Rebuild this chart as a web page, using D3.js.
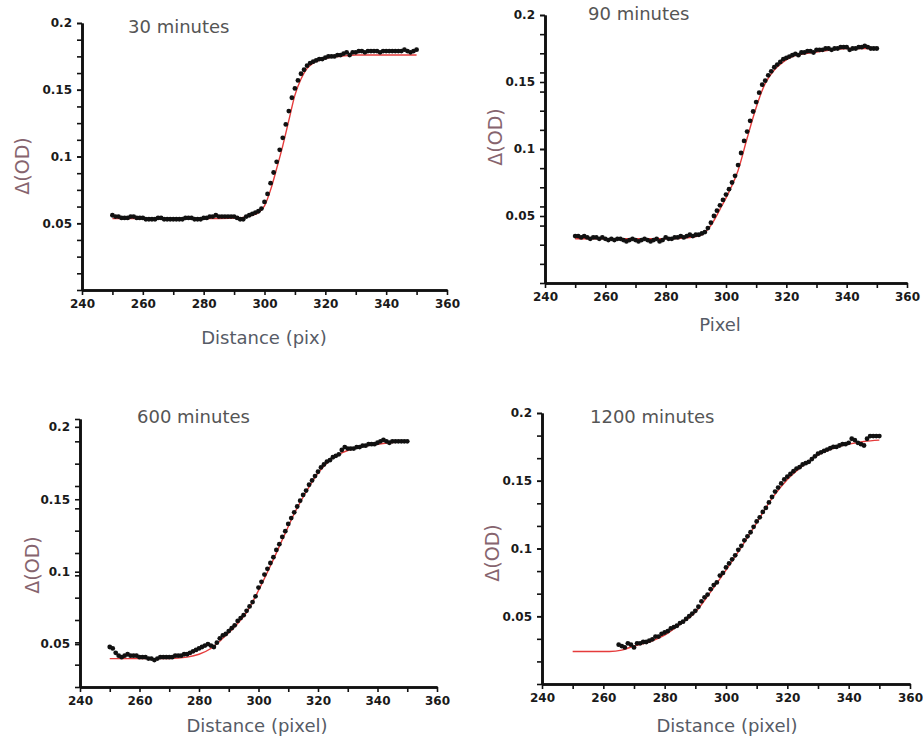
<!DOCTYPE html>
<html>
<head>
  <meta charset='utf-8'>
  <style>
    body { margin: 0; background: #fff; }
    text { font-family: 'DejaVu Sans', sans-serif; }
  </style>
  <script src='https://cdn.jsdelivr.net/npm/d3@7'></script>
</head>
<body>
<script>
  let [width, height] = [923, 740]

  // axis ticks and texts
  let xTicks = [240, 260, 280, 300, 320, 340, 360]
  let xMinor = [250, 270, 290, 310, 330, 350]
  let yTicks = [0.05, 0.1, 0.15, 0.2]
  let titles = ['30 minutes', '90 minutes', '600 minutes', '1200 minutes']
  let xLabels = ['Distance (pix)', 'Pixel', 'Distance (pixel)', 'Distance (pixel)']
  let startPix = [250, 250, 250, 265]

  // measured Δ(OD), one value per pixel from startPix
  let od30 = [
    0.056, 0.055, 0.055, 0.054, 0.054, 0.054, 0.055, 0.055, 0.054, 0.054,
    0.054, 0.053, 0.053, 0.053, 0.053, 0.054, 0.054, 0.053, 0.053, 0.053,
    0.053, 0.053, 0.053, 0.053, 0.054, 0.054, 0.054, 0.053, 0.053, 0.053,
    0.054, 0.054, 0.055, 0.055, 0.056, 0.055, 0.055, 0.055, 0.055, 0.055,
    0.055, 0.054, 0.053, 0.053, 0.055, 0.056, 0.057, 0.058, 0.059, 0.061,
    0.066, 0.072, 0.080, 0.088, 0.096, 0.105, 0.114, 0.124, 0.134, 0.144,
    0.151, 0.157, 0.162, 0.165, 0.168, 0.170, 0.171, 0.172, 0.173, 0.173,
    0.174, 0.175, 0.175, 0.175, 0.176, 0.176, 0.177, 0.178, 0.176, 0.178,
    0.178, 0.179, 0.179, 0.178, 0.179, 0.179, 0.179, 0.179, 0.178, 0.179,
    0.179, 0.179, 0.179, 0.179, 0.179, 0.179, 0.180, 0.179, 0.178, 0.179,
    0.180
  ]
  let od90 = [
    0.035, 0.035, 0.034, 0.035, 0.034, 0.033, 0.034, 0.034, 0.033, 0.034,
    0.033, 0.032, 0.033, 0.032, 0.033, 0.033, 0.032, 0.031, 0.032, 0.033,
    0.032, 0.031, 0.032, 0.033, 0.032, 0.031, 0.032, 0.033, 0.031, 0.032,
    0.034, 0.033, 0.033, 0.034, 0.034, 0.035, 0.034, 0.035, 0.036, 0.035,
    0.036, 0.036, 0.037, 0.038, 0.041, 0.045, 0.050, 0.054, 0.058, 0.062,
    0.066, 0.070, 0.075, 0.080, 0.088, 0.097, 0.106, 0.113, 0.121, 0.128,
    0.135, 0.142, 0.148, 0.151, 0.155, 0.158, 0.161, 0.163, 0.165, 0.167,
    0.168, 0.169, 0.170, 0.171, 0.170, 0.172, 0.172, 0.173, 0.173, 0.172,
    0.174, 0.174, 0.174, 0.175, 0.175, 0.174, 0.175, 0.175, 0.176, 0.176,
    0.176, 0.174, 0.175, 0.175, 0.176, 0.176, 0.177, 0.176, 0.175, 0.175,
    0.175
  ]
  let od600 = [
    0.048, 0.047, 0.044, 0.042, 0.041, 0.042, 0.043, 0.042, 0.042, 0.042,
    0.041, 0.041, 0.041, 0.040, 0.040, 0.039, 0.040, 0.041, 0.041, 0.041,
    0.041, 0.041, 0.042, 0.042, 0.042, 0.043, 0.043, 0.044, 0.045, 0.046,
    0.047, 0.048, 0.049, 0.050, 0.049, 0.048, 0.051, 0.054, 0.056, 0.057,
    0.059, 0.061, 0.063, 0.066, 0.068, 0.070, 0.073, 0.076, 0.079, 0.083,
    0.089, 0.093, 0.098, 0.102, 0.106, 0.110, 0.115, 0.119, 0.124, 0.128,
    0.133, 0.137, 0.141, 0.145, 0.149, 0.153, 0.156, 0.160, 0.163, 0.166,
    0.169, 0.172, 0.174, 0.176, 0.177, 0.179, 0.180, 0.181, 0.184, 0.186,
    0.185, 0.185, 0.185, 0.186, 0.186, 0.187, 0.187, 0.188, 0.188, 0.188,
    0.189, 0.190, 0.191, 0.190, 0.189, 0.190, 0.190, 0.190, 0.190, 0.190,
    0.190
  ]
  let od1200 = [
    0.029, 0.028, 0.027, 0.030, 0.029, 0.027, 0.030, 0.030, 0.031, 0.031,
    0.032, 0.033, 0.035, 0.035, 0.037, 0.038, 0.039, 0.041, 0.042, 0.043,
    0.045, 0.046, 0.048, 0.050, 0.052, 0.054, 0.057, 0.061, 0.064, 0.066,
    0.070, 0.073, 0.075, 0.080, 0.082, 0.086, 0.089, 0.092, 0.095, 0.099,
    0.102, 0.106, 0.109, 0.112, 0.116, 0.120, 0.123, 0.127, 0.130, 0.134,
    0.138, 0.142, 0.145, 0.148, 0.151, 0.153, 0.155, 0.157, 0.159, 0.160,
    0.162, 0.163, 0.164, 0.166, 0.168, 0.170, 0.171, 0.172, 0.173, 0.174,
    0.175, 0.175, 0.176, 0.177, 0.177, 0.178, 0.181, 0.180, 0.178, 0.177,
    0.176, 0.181, 0.183, 0.183, 0.183, 0.183
  ]

  // fitted curves (red)
  let fit30X = [250, 285, 292, 296, 298, 300, 302, 304, 306, 308, 310, 312, 314, 316, 318, 321, 325, 330, 350]
  let fit30Y = [0.0535, 0.0535, 0.054, 0.056, 0.058, 0.063, 0.075, 0.091, 0.108, 0.127, 0.146, 0.158, 0.166, 0.170, 0.172, 0.174, 0.175, 0.176, 0.176]
  let fit90X = [250, 280, 288, 292, 295, 298, 301, 304, 307, 310, 313, 316, 319, 322, 326, 332, 340, 350]
  let fit90Y = [0.033, 0.033, 0.034, 0.036, 0.043, 0.055, 0.068, 0.084, 0.108, 0.131, 0.149, 0.159, 0.165, 0.169, 0.171, 0.173, 0.175, 0.175]
  let fit600X = [250, 260, 270, 276, 280, 284, 288, 292, 296, 300, 304, 308, 312, 316, 320, 324, 328, 334, 340, 350]
  let fit600Y = [0.040, 0.040, 0.040, 0.041, 0.043, 0.047, 0.054, 0.062, 0.072, 0.087, 0.104, 0.122, 0.140, 0.155, 0.168, 0.177, 0.182, 0.186, 0.188, 0.190]
  let fit1200X = [250, 262, 266, 270, 275, 280, 285, 290, 295, 300, 305, 310, 315, 320, 325, 330, 335, 340, 345, 350]
  let fit1200Y = [0.024, 0.024, 0.025, 0.028, 0.031, 0.036, 0.044, 0.053, 0.068, 0.084, 0.101, 0.119, 0.137, 0.151, 0.161, 0.169, 0.174, 0.177, 0.179, 0.180]

  let series = [od30, od90, od600, od1200]
  let fits = [[fit30X, fit30Y], [fit90X, fit90Y], [fit600X, fit600Y], [fit1200X, fit1200Y]]

  // panel placement (pixels)
  let panels = [
    { xr: [82, 447], yr: [290, 23], yd: [0, 0.2], minor: 16, title: [128, 33], xl: [264, 344], yl: [22, 166] },
    { xr: [545, 907], yr: [283, 15], yd: [0, 0.2], minor: 14, title: [588, 20], xl: [720, 331], yl: [495, 137] },
    { xr: [80, 437], yr: [687, 419], yd: [0.0204, 0.2054], minor: 12, title: [137, 423], xl: [257, 732], yl: [32, 565] },
    { xr: [542, 910], yr: [684, 413], yd: [0, 0.2], minor: 12, title: [590, 423], xl: [727, 732], yl: [492, 553] }
  ]

  let svg = d3.select('body').append('svg')
    .attr('width', width)
    .attr('height', height)

  svg.append('rect').attr('width', width).attr('height', height).attr('fill', '#fff')

  panels.forEach((p, k) => {
    let x = d3.scaleLinear([240, 360], p.xr)
    let y = d3.scaleLinear(p.yd, p.yr)
    let g = svg.append('g')

    let yMinor = d3.range(p.minor + 1).map(i => p.yd[0] + i * (p.yd[1] - p.yd[0]) / p.minor)

    let styleAxis = a => {
      a.select('.domain').attr('stroke', '#111').attr('stroke-width', 2.6)
      a.selectAll('.tick line').attr('stroke', '#111').attr('stroke-width', 1.6)
      a.selectAll('.tick text')
        .attr('fill', '#1a1a1a')
        .style('font-size', '12px')
        .style('font-weight', 'bold')
    }

    g.append('g')
      .attr('transform', `translate(0,${p.yr[0]})`)
      .call(d3.axisBottom(x).tickValues(xMinor).tickSize(5).tickSizeOuter(0).tickFormat(''))
      .call(styleAxis)
    g.append('g')
      .attr('transform', `translate(0,${p.yr[0]})`)
      .call(d3.axisBottom(x).tickValues(xTicks).tickSize(5).tickSizeOuter(0).tickPadding(4).tickFormat(d3.format('d')))
      .call(styleAxis)

    g.append('g')
      .attr('transform', `translate(${p.xr[0]},0)`)
      .call(d3.axisLeft(y).tickValues(yMinor).tickSize(5).tickSizeOuter(0).tickFormat(''))
      .call(styleAxis)
    g.append('g')
      .attr('transform', `translate(${p.xr[0]},0)`)
      .call(d3.axisLeft(y).tickValues(yTicks).tickSize(5).tickSizeOuter(0).tickPadding(5).tickFormat(d3.format('~g')))
      .call(styleAxis)

    // fit line
    let [fx, fy] = fits[k]
    g.append('path')
      .datum(fx.map((v, i) => [v, fy[i]]))
      .attr('fill', 'none')
      .attr('stroke', '#e53b3b')
      .attr('stroke-width', 1.4)
      .attr('d', d3.line().x(d => x(d[0])).y(d => y(d[1])).curve(d3.curveMonotoneX))

    // measured points
    g.append('g')
      .selectAll('circle')
      .data(series[k])
      .join('circle')
      .attr('cx', (d, i) => x(startPix[k] + i))
      .attr('cy', d => y(d))
      .attr('r', 2.4)
      .attr('fill', '#111')

    g.append('text')
      .attr('x', p.title[0]).attr('y', p.title[1])
      .attr('fill', '#555')
      .style('font-size', '18px')
      .text(titles[k])

    g.append('text')
      .attr('x', p.xl[0]).attr('y', p.xl[1])
      .attr('text-anchor', 'middle')
      .attr('fill', '#565b66')
      .style('font-size', '18px')
      .text(xLabels[k])

    g.append('text')
      .attr('transform', `translate(${p.yl[0]},${p.yl[1]}) rotate(-90)`)
      .attr('text-anchor', 'middle')
      .attr('dominant-baseline', 'central')
      .attr('fill', '#86646e')
      .style('font-size', '19px')
      .text('Δ(OD)')
  })
</script>
</body>
</html>
